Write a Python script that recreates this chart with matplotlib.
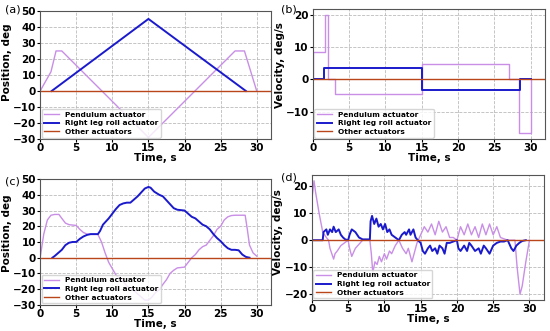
import matplotlib
matplotlib.use("Agg")
import matplotlib.pyplot as plt

# (a) planned positions
a_pend_t = [0, 1.5, 2.2, 3.0, 15.0, 27.0, 28.3, 30.0]
a_pend_y = [0, 12, 25, 25, -29, 25, 25, 0]
a_leg_t = [1.6, 15.0, 28.5]
a_leg_y = [0, 45, 0]

# (b) planned velocities
b_pend_t = [0, 0, 1.6, 1.6, 2.1, 2.1, 3.1, 3.1, 15.0, 15.0, 27.0, 27.0, 28.4, 28.4, 30.0, 30.0]
b_pend_y = [0, 8.4, 8.4, 20, 20, 0, 0, -4.6, -4.6, 4.6, 4.6, 0, 0, -16.7, -16.7, 0]
b_leg_t = [0, 1.5, 1.5, 15.0, 15.0, 28.5, 28.5, 30.0]
b_leg_y = [0, 0, 3.4, 3.4, -3.4, -3.4, 0, 0]

# (c) measured positions
c_pend_t = [0, 0.5, 1, 1.5, 2, 2.6, 3, 3.5, 4, 5, 5.5, 6, 6.5, 7, 8, 8.5, 9, 9.5, 10,
            10.5, 11, 11.5, 12, 13, 13.5, 14, 14.5, 15, 15.5, 16, 16.5, 17, 17.5, 18,
            18.5, 19, 20, 20.5, 21, 21.5, 22, 22.5, 23, 23.5, 24, 24.5, 25, 25.5, 26,
            26.5, 27, 28, 28.4, 28.7, 29, 29.5, 30]
c_pend_y = [0, 15, 24, 27, 27.5, 27.5, 25, 22, 21, 20.5, 18, 16, 15, 14.8, 14.8, 10, 3,
            -3, -7, -11, -13, -15, -18, -21, -23, -25, -27, -27, -25, -22, -20.5, -17,
            -14, -10, -8, -6.5, -6, -3, 0, 2, 5, 7, 8, 11, 14, 18, 20, 24, 26, 26.8, 27,
            27, 27, 18, 8, 3, 1]
c_leg_t = [1.7, 2, 2.5, 3, 3.5, 4, 4.5, 5, 5.5, 6, 6.5, 7, 8, 8.3, 8.7, 9.5, 10, 10.5,
           11, 11.5, 12, 12.5, 13, 13.5, 14, 14.5, 15, 15.3, 15.8, 16.5, 17, 17.5, 18,
           18.5, 19, 20, 20.5, 21, 21.5, 22, 22.5, 23, 23.5, 24, 24.5, 25, 25.5, 26,
           26.5, 27, 27.5, 28, 28.5, 29]
c_leg_y = [0, 1, 3, 5, 8, 9.5, 10, 10, 12, 13.5, 14.5, 15, 15, 17, 21, 25, 28, 31, 33.5,
           34.5, 35, 35, 37, 39, 41.5, 44, 45, 44.5, 42, 40, 39, 36.5, 34, 31.5, 30.5,
           30, 28, 26, 25, 23, 21, 20, 18, 15, 12.5, 10.5, 8, 6, 5, 5, 4.7, 2, 0.5, 0]

# (d) measured velocities
d_pend_t = [0, 0.3, 0.5, 1, 1.5, 2, 2.3, 2.5, 3, 3.2, 3.5, 4, 4.5, 5, 5.2, 5.5, 6, 6.5,
            7, 8, 8.2, 8.4, 8.7, 9, 9.3, 9.6, 10, 10.3, 10.7, 11, 11.5, 12, 12.5, 13,
            13.3, 13.8, 14.2, 14.5, 15, 15.5, 16, 16.5, 17, 17.5, 18, 18.5, 19, 19.5,
            20, 20.5, 21, 21.5, 22, 22.5, 23, 23.5, 24, 24.5, 25, 25.5, 26, 26.5, 27,
            28, 28.3, 28.7, 29, 29.5, 30]
d_pend_y = [15, 22, 18, 10, 3, 1, 0, -3, -7, -5, -4, -2, -1, 0, -3, -6, -3, -1.5, 0, 0,
            -5, -12, -8, -9, -6, -8, -5, -7, -4, -5, -2, 0, -3, -5, -3, -8, -4, -1, 2,
            5, 3, 6, 2, 7, 3, 5, 1, 1, 0, 5, 2, 6, 2, 5, 1, 6, 2, 6, 2, 5, 1, 0.5, 0, 0,
            -10, -20, -17, -8, 0]
d_leg_t = [0, 1.5, 1.6, 2, 2.2, 2.5, 2.8, 3, 3.3, 3.7, 4, 4.3, 4.6, 5, 5.2, 5.5, 6, 6.5,
           7, 8, 8.1, 8.3, 8.6, 8.9, 9.2, 9.5, 9.8, 10.1, 10.4, 10.7, 11, 11.5, 12,
           12.4, 12.8, 13, 13.4, 13.6, 14, 14.3, 14.6, 15, 15.3, 15.6, 16, 16.3, 16.6,
           17, 17.3, 17.6, 18, 18.3, 18.6, 19, 19.5, 20, 20.2, 20.5, 21, 21.4, 21.7,
           22, 22.5, 23, 23.3, 23.7, 24, 24.5, 25, 25.5, 26, 26.5, 27, 27.5, 27.8,
           28.2, 28.6, 29, 29.5]
d_leg_y = [0, 0, 3, 4, 2, 4, 3, 5, 3, 4, 2, 1, 0.3, 0, 2, 4, 3, 1, 0.3, 0.3, 7, 9, 6, 8,
           5, 6, 4, 6, 3, 4, 2, 1, 0, 2, 3, 2, 4, 2, 4, 1, 0, -1, -4, -5, -3, -2, -4,
           -3, -5, -2, -3, -5, -1, -1, -0.5, 0, -3, -4, -2, -4, -1, -2, -4, -3, -5, -2,
           -3, -5, -2, -1, -0.5, -0.5, 0, -3, -4, -2, -1, -0.3, 0]

other_t = [0, 33]
other_y = [0, 0]

PEND = "#c98ee6"
LEG = "#1a1acc"
OTHER = "#b8461a"

fig = plt.figure(figsize=(5.5, 3.31), dpi=100)
boxes = {
    "a": [0.073, 0.580, 0.420, 0.387],
    "b": [0.569, 0.580, 0.422, 0.393],
    "c": [0.073, 0.079, 0.420, 0.380],
    "d": [0.567, 0.094, 0.422, 0.377],
}
# panel letter positions in pixels (x, y from top)
letters = {"a": (5, 10), "b": (281, 9), "c": (5, 181), "d": (281, 178)}
# y-label positions in axes fractions
ylab_pos = {"a": (-0.123, 0.60), "b": (-0.12, 0.57), "c": (-0.123, 0.57), "d": (-0.125, 0.54)}

panels = [
    ("a", a_pend_t, a_pend_y, a_leg_t, a_leg_y, "Position, deg", (-30, 50)),
    ("b", b_pend_t, b_pend_y, b_leg_t, b_leg_y, "Velocity, deg/s", None),
    ("c", c_pend_t, c_pend_y, c_leg_t, c_leg_y, "Position, deg", (-30, 50)),
    ("d", d_pend_t, d_pend_y, d_leg_t, d_leg_y, "Velocity, deg/s", None),
]

for key, pt, py, lt, ly, ylab, ylim in panels:
    ax = fig.add_axes(boxes[key])
    ax.plot(pt, py, color=PEND, linewidth=1.0, label="Pendulum actuator")
    ax.plot(lt, ly, color=LEG, linewidth=1.4, label="Right leg roll actuator")
    ax.plot(other_t, other_y, color=OTHER, linewidth=1.0, label="Other actuators")
    ax.set_xlim(0, 32)
    if ylim:
        ax.set_ylim(*ylim)
        ax.set_yticks(range(-30, 51, 10))
    ax.set_xticks(range(0, 31, 5))
    ax.grid(True, linestyle="--", color="#bbbbbb", linewidth=0.6)
    ax.set_xlabel("Time, s", fontsize=7.5, fontweight="bold", labelpad=0)
    ax.set_ylabel(ylab, fontsize=7.5, fontweight="bold")
    ax.yaxis.set_label_coords(*ylab_pos[key])
    ax.tick_params(labelsize=7.5, length=2, pad=1)
    for lab in ax.get_xticklabels() + ax.get_yticklabels():
        lab.set_fontweight("bold")
    for sp in ax.spines.values():
        sp.set_color("#555555")
    ax.legend(loc="lower left", prop={"weight": "bold", "size": 5.3},
              handlelength=2.0, borderaxespad=0.2, borderpad=0.35,
              labelspacing=0.35, handletextpad=0.8, framealpha=0.8)
    x, y = letters[key]
    fig.text(x / 550, 1 - y / 331, f"({key})", fontsize=8, va="center", ha="left")

fig.savefig("out.png", dpi=100)
